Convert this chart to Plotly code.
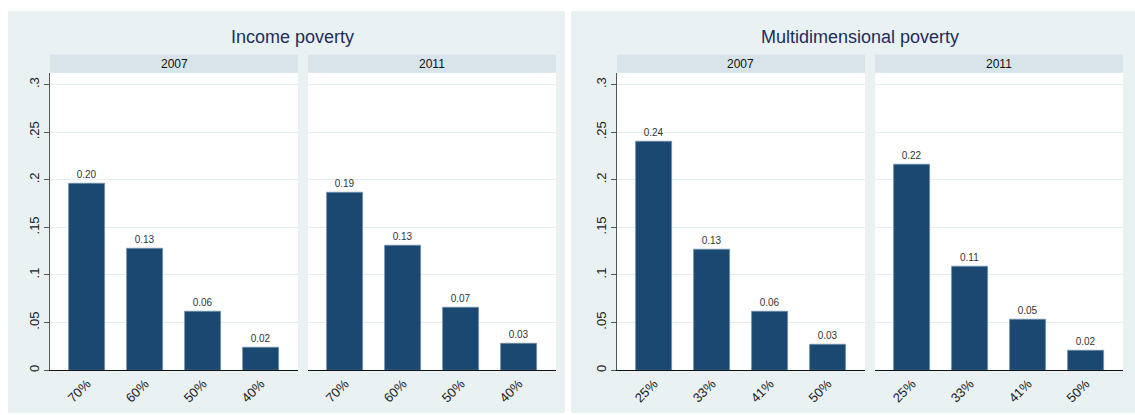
import plotly.graph_objects as go

# Headcount ratios by poverty line, two survey years
income_lines = ["70%", "60%", "50%", "40%"]
income_2007 = [0.196, 0.128, 0.062, 0.024]
income_2011 = [0.186, 0.131, 0.066, 0.028]

multi_cutoffs = ["25%", "33%", "41%", "50%"]
multi_2007 = [0.240, 0.127, 0.062, 0.027]
multi_2011 = [0.216, 0.109, 0.053, 0.021]

years = ["2007", "2011"]
group_titles = ["Income poverty", "Multidimensional poverty"]
y_tickvals = [0, 0.05, 0.1, 0.15, 0.2, 0.25, 0.3]
y_ticktext = ["0", ".05", ".1", ".15", ".2", ".25", ".3"]

W, H = 1135, 415
BAR = "#1b4871"
PANEL_BG = "#e9f1f3"
STRIP_BG = "#d8e4ea"
GRID = "#e4edf0"
FONT = "Liberation Sans, Arial, sans-serif"


def px(x):
    return x / W


def py(y):
    return 1 - y / H


# pixel extents of each panel's plotting area (left, right)
panels = [
    (50, 298, income_lines, income_2007),
    (308, 556, income_lines, income_2011),
    (617, 865, multi_cutoffs, multi_2007),
    (875, 1123, multi_cutoffs, multi_2011),
]
plot_top, plot_bottom = 73, 372
strip_top = 55

fig = go.Figure()
layout = dict(
    width=W, height=H,
    margin=dict(l=0, r=0, t=0, b=0),
    paper_bgcolor="white",
    plot_bgcolor="white",
    showlegend=False,
    bargap=0,
    font=dict(family=FONT, color="#222"),
)

shapes = [
    dict(type="rect", xref="paper", yref="paper", layer="below",
         x0=px(8), x1=px(565), y0=0, y1=py(11),
         fillcolor=PANEL_BG, line=dict(width=0)),
    dict(type="rect", xref="paper", yref="paper", layer="below",
         x0=px(571), x1=1, y0=0, y1=py(11),
         fillcolor=PANEL_BG, line=dict(width=0)),
]
annotations = []

for i, (x0, x1, cats, vals) in enumerate(panels):
    n = i + 1
    xa = "x" if n == 1 else f"x{n}"
    ya = "y" if n == 1 else f"y{n}"
    first_year = i % 2 == 0

    fig.add_trace(go.Bar(
        x=cats, y=vals, xaxis=xa, yaxis=ya,
        width=0.62,
        marker=dict(color=BAR, line=dict(color="#6f8fac", width=0.8)),
        texttemplate="%{y:.2f}", textposition="outside",
        textfont=dict(size=10, color="#333", family=FONT),
        cliponaxis=False, hoverinfo="skip",
    ))

    layout[f"xaxis{'' if n == 1 else n}"] = dict(
        domain=[px(x0), px(x1)], anchor=ya,
        type="category", categoryorder="array", categoryarray=cats,
        range=[-0.64, 3.64],
        showline=True, linecolor="#111", linewidth=1,
        ticks="", tickangle=-45, tickfont=dict(size=13, color="#222"),
        showgrid=False, zeroline=False, fixedrange=True,
    )
    layout[f"yaxis{'' if n == 1 else n}"] = dict(
        domain=[py(plot_bottom), py(plot_top)], anchor=xa,
        range=[0, 0.3125],
        tickvals=y_tickvals, ticktext=y_ticktext,
        showgrid=True, gridcolor=GRID, gridwidth=1,
        zeroline=False,
        showline=first_year, linecolor="#555", linewidth=1,
        ticks="outside" if first_year else "", ticklen=5, tickcolor="#555",
        showticklabels=first_year, tickangle=-90,
        tickfont=dict(size=13, color="#222"),
        fixedrange=True,
    )

    # white plotting area and the year strip above it
    shapes.append(dict(type="rect", xref="paper", yref="paper", layer="below",
                       x0=px(x0), x1=px(x1), y0=py(plot_bottom), y1=py(plot_top),
                       fillcolor="white", line=dict(width=0)))
    shapes.append(dict(type="rect", xref="paper", yref="paper", layer="below",
                       x0=px(x0), x1=px(x1), y0=py(plot_top), y1=py(strip_top),
                       fillcolor=STRIP_BG, line=dict(width=0)))
    annotations.append(dict(
        xref="paper", yref="paper", x=px((x0 + x1) / 2), y=py((strip_top + plot_top) / 2),
        text=years[i % 2], showarrow=False, xanchor="center", yanchor="middle",
        font=dict(size=12, color="#111", family=FONT),
    ))

for title, cx in zip(group_titles, [292, 860]):
    annotations.append(dict(
        xref="paper", yref="paper", x=px(cx), y=py(37),
        text=title, showarrow=False, xanchor="center", yanchor="middle",
        font=dict(size=18, color="#1e2d5c", family=FONT),
    ))

layout["shapes"] = shapes
layout["annotations"] = annotations
fig.update_layout(**layout)
fig.write_html("out.html")
